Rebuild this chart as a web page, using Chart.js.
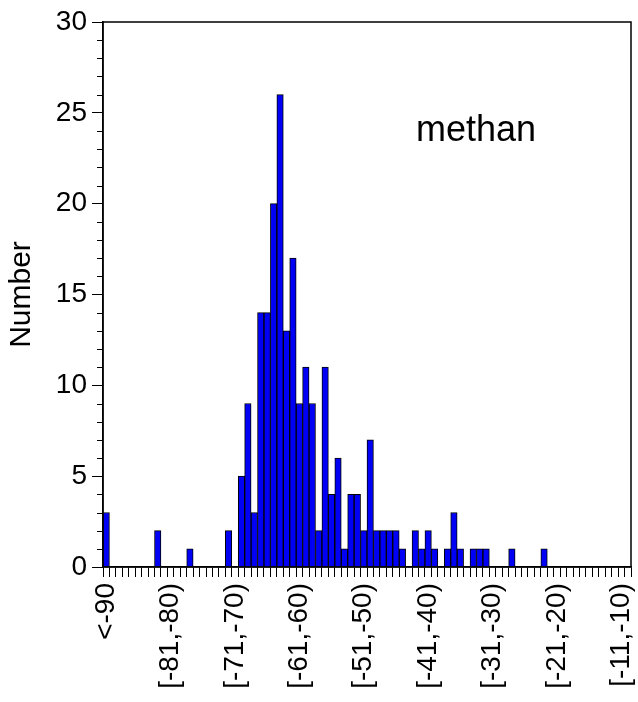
<!DOCTYPE html>
<html>
<head>
<meta charset="utf-8">
<script src="https://cdn.jsdelivr.net/npm/chart.js@4"></script>
<style>
	body { margin: 0; background: #fff; }
	canvas { display: block; }
</style>
</head>
<body>
<canvas id="hist" width="638" height="702"></canvas>
<script>
// bins of 1 unit, first bin is everything below -90
var binStarts = [];
for (var s = -90; s <= -10; s++) binStarts.push(s);

var categories = ['<-90'];
for (var i = 0; i < binStarts.length; i++) {
	categories.push('[' + (binStarts[i]) + ',' + (binStarts[i] + 1) + ')');
}
// tick labels shown every 10 bins
var shownLabels = ['<-90', '[-81,-80)', '[-71,-70)', '[-61,-60)', '[-51,-50)',
	'[-41,-40)', '[-31,-30)', '[-21,-20)', '[-11,-10)'];

var counts = [
	3, 0, 0, 0, 0, 0, 0, 0, 2, 0,
	0, 0, 0, 1, 0, 0, 0, 0, 0, 2,
	0, 5, 9, 3, 14, 14, 20, 26, 13, 17,
	9, 11, 9, 2, 11, 4, 6, 1, 4, 4,
	2, 7, 2, 2, 2, 2, 1, 0, 2, 1,
	2, 1, 0, 1, 3, 1, 0, 1, 1, 1,
	0, 0, 0, 1, 0, 0, 0, 0, 1, 0,
	0, 0, 0, 0, 0, 0, 0, 0, 0, 0,
	0, 0
];

var yTicks = [0, 5, 10, 15, 20, 25, 30];
var seriesName = 'methan';

var font = "'Liberation Sans', Arial, Helvetica, sans-serif";

// frame, minor y ticks and the series name
var decor = {
	id: 'decor',
	afterDraw: function(chart) {
		var ctx = chart.ctx;
		var a = chart.chartArea;
		var y = chart.scales.y;
		ctx.save();
		ctx.strokeStyle = '#000';
		ctx.lineWidth = 1.5;
		ctx.strokeRect(a.left, a.top, a.right - a.left, a.bottom - a.top);
		ctx.lineWidth = 1;
		for (var v = 0; v <= 30; v++) {
			if (v % 5 == 0) continue;
			var py = Math.round(y.getPixelForValue(v)) + 0.5;
			ctx.beginPath();
			ctx.moveTo(a.left - 6, py);
			ctx.lineTo(a.left, py);
			ctx.stroke();
		}
		ctx.fillStyle = '#000';
		ctx.font = '36px ' + font;
		ctx.textAlign = 'left';
		ctx.textBaseline = 'alphabetic';
		ctx.fillText(seriesName, 416, 141);
		ctx.restore();
	}
};

new Chart(document.getElementById('hist').getContext('2d'), {
	type: 'bar',
	data: {
		labels: categories,
		datasets: [{
			label: seriesName,
			data: counts,
			backgroundColor: '#0000f5',
			borderColor: '#000',
			borderWidth: 1,
			barPercentage: 1,
			categoryPercentage: 1
		}]
	},
	options: {
		responsive: false,
		animation: false,
		devicePixelRatio: 1,
		layout: { padding: { top: 22, right: 7, left: 0, bottom: 0 } },
		plugins: {
			legend: { display: false },
			tooltip: { enabled: false }
		},
		scales: {
			x: {
				afterFit: function(scale) {
					scale.height = 135;
					scale.paddingLeft = 0;
					scale.paddingRight = 0;
				},
				grid: {
					drawOnChartArea: false,
					drawTicks: true,
					tickLength: 10,
					tickColor: '#000',
					color: '#000'
				},
				border: { display: true, color: '#000', width: 1.5 },
				ticks: {
					autoSkip: false,
					minRotation: 90,
					maxRotation: 90,
					padding: 6,
					color: '#000',
					font: { family: font, size: 28 },
					callback: function(val, idx) {
						var lab = categories[idx];
						return shownLabels.indexOf(lab) >= 0 ? lab : '';
					}
				}
			},
			y: {
				min: 0,
				max: 30,
				afterFit: function(scale) {
					scale.width = 103;
					scale.paddingTop = 0;
					scale.paddingBottom = 0;
				},
				grid: {
					drawOnChartArea: false,
					drawTicks: true,
					tickLength: 11,
					color: '#000',
					tickColor: function(c) {
						return (c.tick && c.tick.value % 5 == 0) ? '#000' : 'rgba(0,0,0,0)';
					}
				},
				border: { display: true, color: '#000', width: 1.5 },
				ticks: {
					stepSize: 1,
					autoSkip: false,
					padding: 5,
					color: '#000',
					font: { family: font, size: 28 },
					callback: function(v) {
						return yTicks.indexOf(v) >= 0 ? String(v) : '';
					}
				},
				title: {
					display: true,
					text: 'Number',
					color: '#000',
					font: { family: font, size: 30 },
					padding: { top: 4, bottom: 0 }
				}
			}
		}
	},
	plugins: [decor]
});
</script>
</body>
</html>
